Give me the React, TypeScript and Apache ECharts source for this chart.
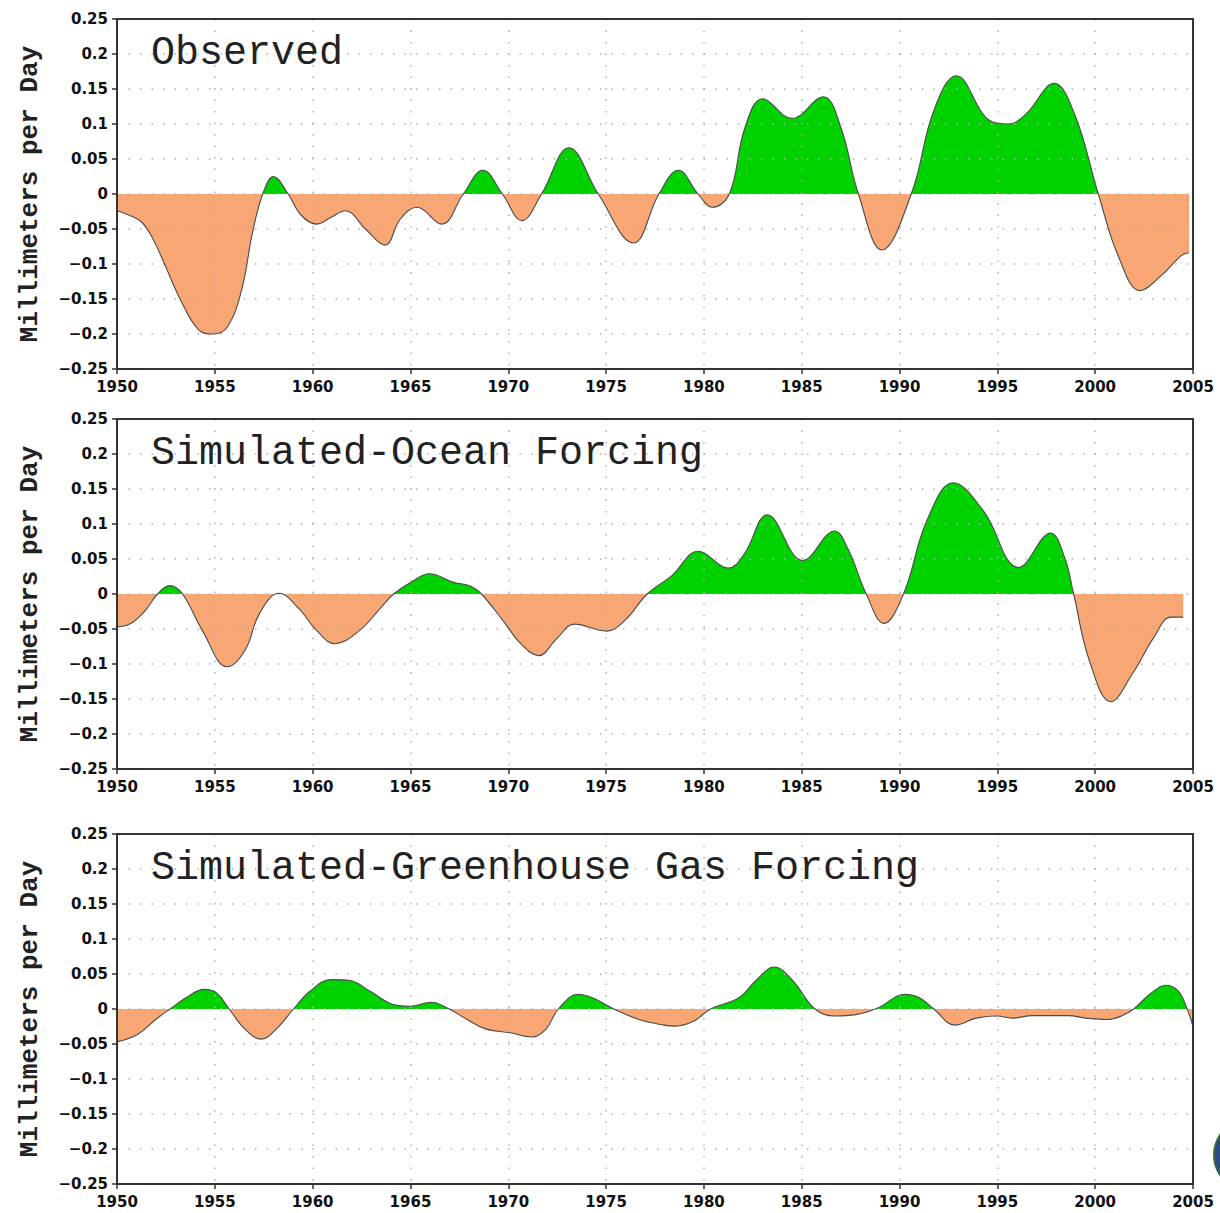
import React, { useEffect, useRef } from "react";
import * as echarts from "echarts";

const panelTitles = ["Observed", "Simulated-Ocean Forcing", "Simulated-Greenhouse Gas Forcing"];
const yAxisName = "Millimeters per Day";
const xTickMin = 1950;
const xTickMax = 2005;
const yTickMin = -0.25;
const yTickMax = 0.25;

const observed: [number, number][] = [
  [1950.0, -0.024], [1950.6, -0.03], [1951.25, -0.04], [1951.8, -0.062], [1952.35, -0.095],
  [1953.26, -0.152], [1954.17, -0.194], [1954.9, -0.2], [1955.64, -0.19], [1956.37, -0.137],
  [1956.92, -0.056], [1957.45, 0], [1958.0, 0.025], [1958.75, 0], [1959.4, -0.03],
  [1960.2, -0.043], [1960.9, -0.034], [1961.67, -0.024], [1962.7, -0.05], [1963.69, -0.073],
  [1964.5, -0.035], [1965.33, -0.019], [1966.6, -0.043], [1967.7, 0], [1968.7, 0.034],
  [1969.7, 0], [1970.7, -0.038], [1971.7, 0], [1973.1, 0.066], [1974.6, 0],
  [1976.4, -0.07], [1977.7, 0], [1978.7, 0.034], [1979.7, 0], [1980.43, -0.019],
  [1981.3, 0], [1982.1, 0.095], [1983.0, 0.136], [1984.5, 0.108], [1986.1, 0.139],
  [1987.0, 0.095], [1987.9, 0], [1989.1, -0.08], [1990.6, 0], [1991.75, 0.119],
  [1992.9, 0.169], [1994.6, 0.105], [1995.55, 0.1], [1996.45, 0.114], [1997.9, 0.158],
  [1998.95, 0.114], [2000.16, 0], [2001.2, -0.09], [2002.3, -0.138], [2003.4, -0.116],
  [2004.4, -0.088], [2004.8, -0.084],
];

const oceanForcing: [number, number][] = [
  [1950.0, -0.047], [1950.7, -0.042], [1951.43, -0.024], [1952.07, 0], [1952.7, 0.012],
  [1953.35, 0], [1954.36, -0.052], [1955.64, -0.104], [1956.55, -0.08], [1957.28, -0.028],
  [1958.29, 0.001], [1959.3, -0.021], [1960.2, -0.052], [1961.13, -0.071], [1962.4, -0.052],
  [1963.5, -0.019], [1964.14, 0], [1965.15, 0.019], [1965.97, 0.029], [1967.17, 0.017],
  [1968.08, 0.011], [1968.63, 0], [1969.73, -0.038], [1970.64, -0.071], [1971.56, -0.088],
  [1972.47, -0.064], [1973.39, -0.043], [1975.03, -0.053], [1975.95, -0.038], [1977.1, 0],
  [1978.35, 0.026], [1979.71, 0.061], [1981.25, 0.037], [1982.06, 0.057], [1983.24, 0.113],
  [1985.05, 0.048], [1986.68, 0.09], [1987.4, 0.062], [1988.3, 0], [1989.2, -0.042],
  [1990.2, 0], [1991.4, 0.105], [1992.74, 0.159], [1994.28, 0.119], [1996.09, 0.038],
  [1997.72, 0.087], [1998.44, 0.052], [1998.9, 0], [1999.7, -0.095], [2000.8, -0.154],
  [2001.9, -0.114], [2003.0, -0.062], [2003.87, -0.033], [2004.5, -0.033],
];

const ghgForcing: [number, number][] = [
  [1950.0, -0.047], [1951.07, -0.036], [1951.98, -0.015], [1952.71, 0], [1953.63, 0.018],
  [1954.45, 0.028], [1955.09, 0.023], [1955.73, 0], [1956.55, -0.029], [1957.38, -0.043],
  [1958.2, -0.027], [1959.02, 0], [1959.85, 0.025], [1960.94, 0.042], [1961.86, 0.041],
  [1962.96, 0.025], [1964.24, 0.0055], [1964.97, 0.004], [1966.07, 0.0097], [1966.98, 0],
  [1967.9, -0.015], [1968.8, -0.028], [1970.1, -0.034], [1971.19, -0.04], [1971.92, -0.029],
  [1972.56, 0], [1973.57, 0.021], [1974.3, 0.016], [1975.4, 0], [1976.68, -0.015],
  [1977.96, -0.023], [1978.53, -0.0245], [1979.44, -0.018], [1980.34, 0], [1981.79, 0.016],
  [1982.7, 0.042], [1983.6, 0.06], [1984.5, 0.042], [1985.68, 0], [1986.68, -0.01],
  [1987.77, -0.008], [1988.85, 0.001], [1990.3, 0.021], [1991.02, 0.016], [1991.75, 0],
  [1992.83, -0.023], [1993.92, -0.013], [1995.0, -0.01], [1995.73, -0.013], [1996.81, -0.0095],
  [1998.63, -0.0095], [1999.53, -0.013], [2000.61, -0.015], [2001.34, -0.01], [2001.97, 0],
  [2002.79, 0.021], [2003.6, 0.034], [2004.24, 0.026], [2004.7, 0], [2005.0, -0.025],
];

const panelData = [observed, oceanForcing, ghgForcing];

const GREEN = "#00D200";
const ORANGE = "#F8A774";
const FRAME = "#333333";
const GRIDLINE = "#b0b0b0";
const gridTops = [19, 419, 834];
const gridHeight = 350;
const gridLeft = 117;
const gridWidth = 1076;

function fmtY(v: number): string {
  const r = Math.round(v * 100) / 100;
  if (r === 0) return "0";
  return r < 0 ? "\u2212" + String(-r) : String(r);
}

export default function App() {
  const ref = useRef<HTMLDivElement>(null);
  useEffect(() => {
    if (!ref.current) return;
    const chart = echarts.init(ref.current, undefined, { renderer: "svg" });
    const dotted = { color: GRIDLINE, width: 1.5, type: [1.5, 10] as any };
    const grids = gridTops.map((top) => ({
      left: gridLeft,
      top,
      width: gridWidth,
      height: gridHeight,
      show: true,
      borderColor: FRAME,
      borderWidth: 2,
      backgroundColor: "transparent",
      z: 6,
    }));
    const xAxes = gridTops.map((_, i) => ({
      type: "value",
      gridIndex: i,
      min: xTickMin,
      max: xTickMax,
      interval: 5,
      z: 4,
      axisLine: { show: true, onZero: false, lineStyle: { color: FRAME, width: 2 } },
      axisTick: { show: true, length: 5, lineStyle: { color: FRAME, width: 1.5 } },
      axisLabel: {
        color: "#111",
        fontFamily: "DejaVu Sans",
        fontWeight: "bold",
        fontSize: 15,
        margin: 10,
        formatter: (v: number) => String(v),
      },
      splitLine: { show: true, lineStyle: dotted },
    }));
    const yAxes = gridTops.map((_, i) => ({
      type: "value",
      gridIndex: i,
      min: yTickMin,
      max: yTickMax,
      interval: 0.05,
      z: 4,
      name: yAxisName,
      nameLocation: "middle",
      nameGap: 74,
      nameTextStyle: {
        fontFamily: "Liberation Mono",
        fontSize: 26,
        fontWeight: "bold",
        color: "#222",
      },
      axisLine: { show: true, lineStyle: { color: FRAME, width: 2 } },
      axisTick: { show: true, length: 5, lineStyle: { color: FRAME, width: 1.5 } },
      axisLabel: {
        color: "#111",
        fontFamily: "DejaVu Sans",
        fontWeight: "bold",
        fontSize: 15,
        margin: 9,
        formatter: fmtY,
      },
      splitLine: { show: true, lineStyle: dotted },
    }));
    const series: any[] = [];
    panelData.forEach((d, i) => {
      const top = gridTops[i];
      const zeroFrac = (yTickMax - 0) / (yTickMax - yTickMin);
      series.push({
        type: "line",
        xAxisIndex: i,
        yAxisIndex: i,
        data: d,
        smooth: 0.4,
        symbol: "none",
        z: 1,
        lineStyle: { width: 0, opacity: 0 },
        areaStyle: {
          opacity: 1,
          origin: 0,
          color: {
            type: "linear",
            x: 0,
            y: top,
            x2: 0,
            y2: top + gridHeight,
            global: true,
            colorStops: [
              { offset: 0, color: GREEN },
              { offset: zeroFrac, color: GREEN },
              { offset: zeroFrac, color: ORANGE },
              { offset: 1, color: ORANGE },
            ],
          },
        },
        silent: true,
      });
      series.push({
        type: "line",
        xAxisIndex: i,
        yAxisIndex: i,
        data: d,
        smooth: 0.4,
        symbol: "none",
        z: 5,
        lineStyle: { color: "#4a4a4a", width: 1.1 },
        silent: true,
      });
    });
    const graphics: any[] = panelTitles.map((t, i) => ({
      type: "text",
      x: 151,
      y: gridTops[i] + 34,
      z: 10,
      style: {
        text: t,
        font: '40px "Liberation Mono"',
        fill: "#222",
        verticalAlign: "middle",
      },
    }));
    graphics.push({
      type: "circle",
      shape: { cx: 1250, cy: 1155, r: 36 },
      style: { fill: "#2b4a8a", stroke: "#3a6a3a", lineWidth: 2 },
      z: 10,
    });
    chart.setOption({
      animation: false,
      backgroundColor: "#ffffff",
      grid: grids,
      xAxis: xAxes,
      yAxis: yAxes,
      series,
      graphic: graphics,
    } as any);
    return () => chart.dispose();
  }, []);
  return (
    <div
      ref={ref}
      style={{ position: "absolute", left: 0, top: 0, width: 1220, height: 1213 }}
    />
  );
}
